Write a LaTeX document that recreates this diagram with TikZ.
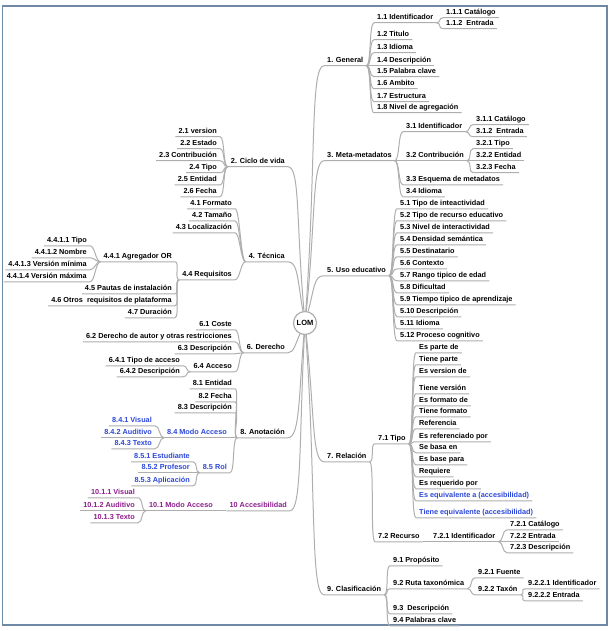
\documentclass[tikz,border=0pt]{standalone}
\usepackage{fontspec}
\setmainfont{Liberation Sans}
\usetikzlibrary{positioning}
\definecolor{mLine}{HTML}{AEAEAE}
\definecolor{mFrame}{HTML}{6F88A3}
\definecolor{mBlue}{HTML}{2B47D8}
\definecolor{mPurple}{HTML}{8C1E8C}
\tikzset{
  item/.style={font=\fontsize{7.3}{8}\selectfont\bfseries, text height=5.5pt,
               text depth=1.6pt, inner xsep=3pt, inner ysep=1pt},
  rt/.style={item, anchor=west},
  lt/.style={item, anchor=east},
  blu/.style={text=mBlue},
  pur/.style={text=mPurple},
  link/.style={draw=mLine, line width=1pt},
  % short bracket curves between a parent line and its children
  rbr/.style={out=0, in=180, out distance=5pt, in distance=5pt},
  lbr/.style={out=180, in=0, out distance=5pt, in distance=5pt},
  root/.style={circle, draw=mLine, line width=1.2pt, fill=white,
               minimum size=23pt, inner sep=0pt,
               font=\fontsize{7.5}{8}\selectfont\bfseries},
}

\begin{document}
\begin{tikzpicture}[x=1pt, y=1pt]
\useasboundingbox (0,0) rectangle (611,-631);
\draw[mFrame, line width=1.2pt] (2.5,-6) rectangle (607,-625);

\node[root] (lom) at (305,-323) {LOM};

%% -- right side ------------------------------------------------------------
\node[rt] (gen) at (324,-61) {1. General};
\node[rt] (gen1) at (374,-18) {1.1 Identificador};
\node[rt] (gen11) at (443,-13) {1.1.1 Catálogo};
\node[rt] (gen12) at (443,-24) {1.1.2\ \ Entrada};
\node[rt] (gen2) at (374,-35) {1.2 Titulo};
\node[rt] (gen3) at (374,-48) {1.3 Idioma};
\node[rt] (gen4) at (374,-61) {1.4 Descripción};
\node[rt] (gen5) at (374,-72) {1.5 Palabra clave};
\node[rt] (gen6) at (374,-84) {1.6 Ambito};
\node[rt] (gen7) at (374,-97) {1.7 Estructura};
\node[rt] (gen8) at (374,-108) {1.8 Nivel de agregación};

\node[rt] (meta) at (324,-156) {3. Meta-metadatos};
\node[rt] (meta1) at (403,-127) {3.1 Identificador};
\node[rt] (meta11) at (473,-120) {3.1.1 Catálogo};
\node[rt] (meta12) at (473,-132) {3.1.2\ \ Entrada};
\node[rt] (meta2) at (403,-156) {3.2 Contribución};
\node[rt] (meta21) at (473,-144) {3.2.1 Tipo};
\node[rt] (meta22) at (473,-156) {3.2.2 Entidad};
\node[rt] (meta23) at (473,-168) {3.2.3 Fecha};
\node[rt] (meta3) at (403,-180) {3.3 Esquema de metadatos};
\node[rt] (meta4) at (403,-192) {3.4 Idioma};

\node[rt] (edu) at (324,-271) {5. Uso educativo};
\node[rt] (edu1) at (397,-204) {5.1 Tipo de inteactividad};
\node[rt] (edu2) at (397,-216) {5.2 Tipo de recurso educativo};
\node[rt] (edu3) at (397,-228) {5.3 Nivel de interactividad};
\node[rt] (edu4) at (397,-240) {5.4 Densidad semántica};
\node[rt] (edu5) at (397,-252) {5.5 Destinatario};
\node[rt] (edu6) at (397,-264) {5.6 Contexto};
\node[rt] (edu7) at (397,-276) {5.7 Rango tipico de edad};
\node[rt] (edu8) at (397,-288) {5.8 Dificultad};
\node[rt] (edu9) at (397,-300) {5.9 Tiempo tipico de aprendizaje};
\node[rt] (edu10) at (397,-312) {5.10 Descripción};
\node[rt] (edu11) at (397,-324) {5.11 Idioma};
\node[rt] (edu12) at (397,-336) {5.12 Proceso cognitivo};

\node[rt] (rel) at (324,-457) {7. Relación};
\node[rt] (rel1) at (375,-439) {7.1 Tipo};
\node[rt] (tipo1) at (416,-348) {Es parte de};
\node[rt] (tipo2) at (416,-360) {Tiene parte};
\node[rt] (tipo3) at (416,-372) {Es version de};
\node[rt] (tipo4) at (416,-389) {Tiene versión};
\node[rt] (tipo5) at (416,-401) {Es formato de};
\node[rt] (tipo6) at (416,-412) {Tiene formato};
\node[rt] (tipo7) at (416,-424) {Referencia};
\node[rt] (tipo8) at (416,-437) {Es referenciado por};
\node[rt] (tipo9) at (416,-448) {Se basa en};
\node[rt] (tipo10) at (416,-460) {Es base para};
\node[rt] (tipo11) at (416,-472) {Requiere};
\node[rt] (tipo12) at (416,-484) {Es requerido por};
\node[rt, blu] (tipo13) at (416,-496) {Es equivalente a (accesibilidad)};
\node[rt, blu] (tipo14) at (416,-513) {Tiene equivalente (accesibilidad)};
\node[rt] (rel2) at (375,-537) {7.2 Recurso};
\node[rt] (rel21) at (430,-537) {7.2.1 Identificador};
\node[rt] (rel211) at (507,-525) {7.2.1 Catálogo};
\node[rt] (rel212) at (507,-537) {7.2.2 Entrada};
\node[rt] (rel213) at (507,-548) {7.2.3 Descripción};

\node[rt] (cla) at (324,-590) {9. Clasificación};
\node[rt] (cla1) at (390,-561) {9.1 Propósito};
\node[rt] (cla2) at (390,-584) {9.2 Ruta taxonómica};
\node[rt] (cla21) at (475,-573) {9.2.1 Fuente};
\node[rt] (cla22) at (475,-590) {9.2.2 Taxón};
\node[rt] (cla221) at (525,-584) {9.2.2.1 Identificador};
\node[rt] (cla222) at (525,-596) {9.2.2.2 Entrada};
\node[rt] (cla3) at (390,-609) {9.3\ \ Descripción};
\node[rt] (cla4) at (390,-621) {9.4 Palabras clave};

%% -- left side -------------------------------------------------------------
\node[lt] (cic) at (288,-162) {2. Ciclo de vida};
\node[lt] (cic1) at (220,-132) {2.1 version};
\node[lt] (cic2) at (220,-144) {2.2 Estado};
\node[lt] (cic3) at (220,-156) {2.3 Contribución};
\node[lt] (cic4) at (220,-168) {2.4 Tipo};
\node[lt] (cic5) at (220,-180) {2.5 Entidad};
\node[lt] (cic6) at (220,-192) {2.6 Fecha};

\node[lt] (tec) at (288,-257) {4. Técnica};
\node[lt] (tec1) at (235,-204) {4.1 Formato};
\node[lt] (tec2) at (235,-216) {4.2 Tamaño};
\node[lt] (tec3) at (235,-228) {4.3 Localización};
\node[lt] (tec4) at (235,-275) {4.4 Requisitos};
\node[lt] (tec41) at (175,-257) {4.4.1 Agregador OR};
\node[lt] (tec411) at (90,-241) {4.4.1.1 Tipo};
\node[lt] (tec412) at (90,-253) {4.4.1.2 Nombre};
\node[lt] (tec413) at (90,-265) {4.4.1.3 Versión mínima};
\node[lt] (tec414) at (90,-277) {4.4.1.4 Versión máxima};
\node[lt] (tec5) at (175,-289) {4.5 Pautas de instalación};
\node[lt] (tec6) at (175,-301) {4.6 Otros\ \ requisitos de plataforma};
\node[lt] (tec7) at (175,-313) {4.7 Duración};

\node[lt] (der) at (288,-348) {6. Derecho};
\node[lt] (der1) at (235,-325) {6.1 Coste};
\node[lt] (der2) at (235,-337) {6.2 Derecho de autor y otras restricciones};
\node[lt] (der3) at (235,-349) {6.3 Descripción};
\node[lt] (der4) at (235,-367) {6.4 Acceso};
\node[lt] (der41) at (183,-361) {6.4.1 Tipo de acceso};
\node[lt] (der42) at (183,-372) {6.4.2 Descripción};

\node[lt] (ano) at (288,-433) {8. Anotación};
\node[lt] (ano1) at (235,-384) {8.1 Entidad};
\node[lt] (ano2) at (235,-397) {8.2 Fecha};
\node[lt] (ano3) at (235,-408) {8.3 Descripción};
\node[lt, blu] (ano4) at (230,-433) {8.4 Modo Acceso};
\node[lt, blu] (ano41) at (155,-421) {8.4.1 Visual};
\node[lt, blu] (ano42) at (155,-433) {8.4.2 Auditivo};
\node[lt, blu] (ano43) at (155,-444) {8.4.3 Texto};
\node[lt, blu] (ano5) at (230,-468) {8.5 Rol};
\node[lt, blu] (ano51) at (193,-457) {8.5.1 Estudiante};
\node[lt, blu] (ano52) at (193,-468) {8.5.2 Profesor};
\node[lt, blu] (ano53) at (193,-481) {8.5.3 Aplicación};

\node[lt, pur] (acc) at (290,-506) {10 Accesibilidad};
\node[lt, pur] (acc1) at (216,-506) {10.1 Modo Acceso};
\node[lt, pur] (acc11) at (138,-493) {10.1.1 Visual};
\node[lt, pur] (acc12) at (138,-506) {10.1.2 Auditivo};
\node[lt, pur] (acc13) at (138,-518) {10.1.3 Texto};

%% -- branches out of the root ----------------------------------------------
\draw[link] (lom) to[out=86, in=180, out distance=150pt, in distance=14pt] (gen.south west) -- (gen.south east);
\draw[link] (lom) to[out=84, in=180, out distance=90pt, in distance=12pt] (meta.south west) -- (meta.south east);
\draw[link] (lom) to[out=75, in=180, out distance=25pt, in distance=10pt] (edu.south west) -- (edu.south east);
\draw[link] (lom) to[out=-84, in=180, out distance=80pt, in distance=12pt] (rel.south west) -- (rel.south east);
\draw[link] (lom) to[out=-86, in=180, out distance=150pt, in distance=14pt] (cla.south west) -- (cla.south east);
\draw[link] (lom) to[out=95, in=0, out distance=90pt, in distance=12pt] (cic.south east) -- (cic.south west);
\draw[link] (lom) to[out=100, in=0, out distance=30pt, in distance=10pt] (tec.south east) -- (tec.south west);
\draw[link] (lom) to[out=245, in=0, out distance=10pt, in distance=6pt] (der.south east) -- (der.south west);
\draw[link] (lom) to[out=-95, in=0, out distance=60pt, in distance=12pt] (ano.south east) -- (ano.south west);
\draw[link] (lom) to[out=-93, in=0, out distance=100pt, in distance=12pt] (acc.south east) -- (acc.south west);

%% -- right brackets ----------------------------------------------------------
\foreach \p/\c in {gen/gen1, gen/gen2, gen/gen3, gen/gen4, gen/gen5, gen/gen6,
    gen/gen7, gen/gen8, gen1/gen11, gen1/gen12,
    meta/meta1, meta/meta2, meta/meta3, meta/meta4, meta1/meta11, meta1/meta12,
    meta2/meta21, meta2/meta22, meta2/meta23,
    edu/edu1, edu/edu2, edu/edu3, edu/edu4, edu/edu5, edu/edu6, edu/edu7,
    edu/edu8, edu/edu9, edu/edu10, edu/edu11, edu/edu12,
    rel/rel1, rel/rel2, rel2/rel21, rel21/rel211, rel21/rel212, rel21/rel213,
    cla/cla1, cla/cla2, cla/cla3, cla/cla4, cla2/cla21, cla2/cla22,
    cla22/cla221, cla22/cla222}
  \draw[link] (\p.south east) to[rbr] (\c.south west) -- (\c.south east);
\foreach \i in {1,...,14}
  \draw[link] (rel1.south east) to[rbr] (tipo\i.south west) -- (tipo\i.south east);

%% -- left brackets -----------------------------------------------------------
\foreach \p/\c in {cic/cic1, cic/cic2, cic/cic3, cic/cic4, cic/cic5, cic/cic6,
    tec/tec1, tec/tec2, tec/tec3, tec/tec4, tec4/tec41, tec4/tec5, tec4/tec6,
    tec4/tec7, tec41/tec411, tec41/tec412, tec41/tec413, tec41/tec414,
    der/der1, der/der2, der/der3, der/der4, der4/der41, der4/der42,
    ano/ano1, ano/ano2, ano/ano3, ano/ano4, ano/ano5, ano4/ano41, ano4/ano42,
    ano4/ano43, ano5/ano51, ano5/ano52, ano5/ano53,
    acc/acc1, acc1/acc11, acc1/acc12, acc1/acc13}
  \draw[link] (\p.south west) to[lbr] (\c.south east) -- (\c.south west);

\end{tikzpicture}
\end{document}
